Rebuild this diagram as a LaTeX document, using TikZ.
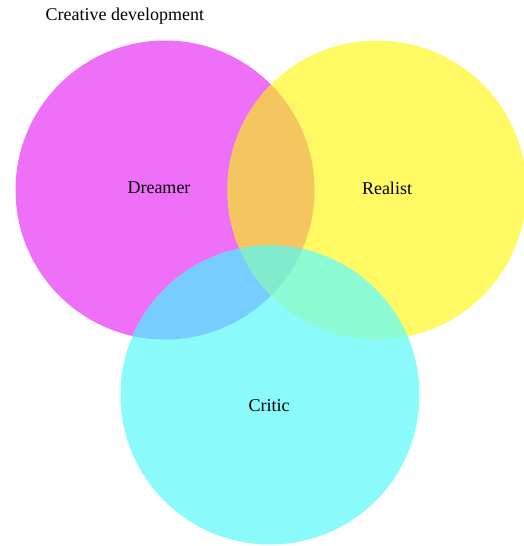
\documentclass[tikz,border=0pt]{standalone}
\usepackage{fontspec}
\setmainfont{Liberation Serif}
\definecolor{dreamcol}{RGB}{238,112,248}
\definecolor{realcol}{RGB}{255,250,100}
\definecolor{criticcol}{RGB}{138,250,250}
\definecolor{drcol}{RGB}{245,197,96}
\definecolor{dccol}{RGB}{120,205,255}
\definecolor{rccol}{RGB}{140,250,210}
\definecolor{allcol}{RGB}{130,235,205}
\begin{document}
\begin{tikzpicture}[x=1pt,y=-1pt,set circle/.style={circle,minimum size=299pt,inner sep=0pt},main node/.style={font=\fontsize{18}{20}\selectfont}]
        \useasboundingbox (0,0) rectangle (523,546);
        \node[set circle,fill=dreamcol] (dreamer) at (165,190) {};
        \node[set circle,fill=realcol] (realist) at (377,190) {};
        \node[set circle,fill=criticcol] (critic) at (270,395) {};
        % overlaps
        \begin{scope}
          \clip (dreamer.center) circle[radius=149.5];
          \fill[drcol] (realist.center) circle[radius=149.5];
          \fill[dccol] (critic.center) circle[radius=149.5];
        \end{scope}
        \begin{scope}
          \clip (realist.center) circle[radius=149.5];
          \fill[rccol] (critic.center) circle[radius=149.5];
          \clip (critic.center) circle[radius=149.5];
          \fill[allcol] (dreamer.center) circle[radius=149.5];
        \end{scope}
        \node[main node,anchor=west] (title) at (42,16) {Creative development};
        \node[main node] (d) at (159,188) {Dreamer};
        \node[main node] (r) at (387,188) {Realist};
        \node[main node] (c) at (269,406) {Critic};
      \end{tikzpicture}
\end{document}
